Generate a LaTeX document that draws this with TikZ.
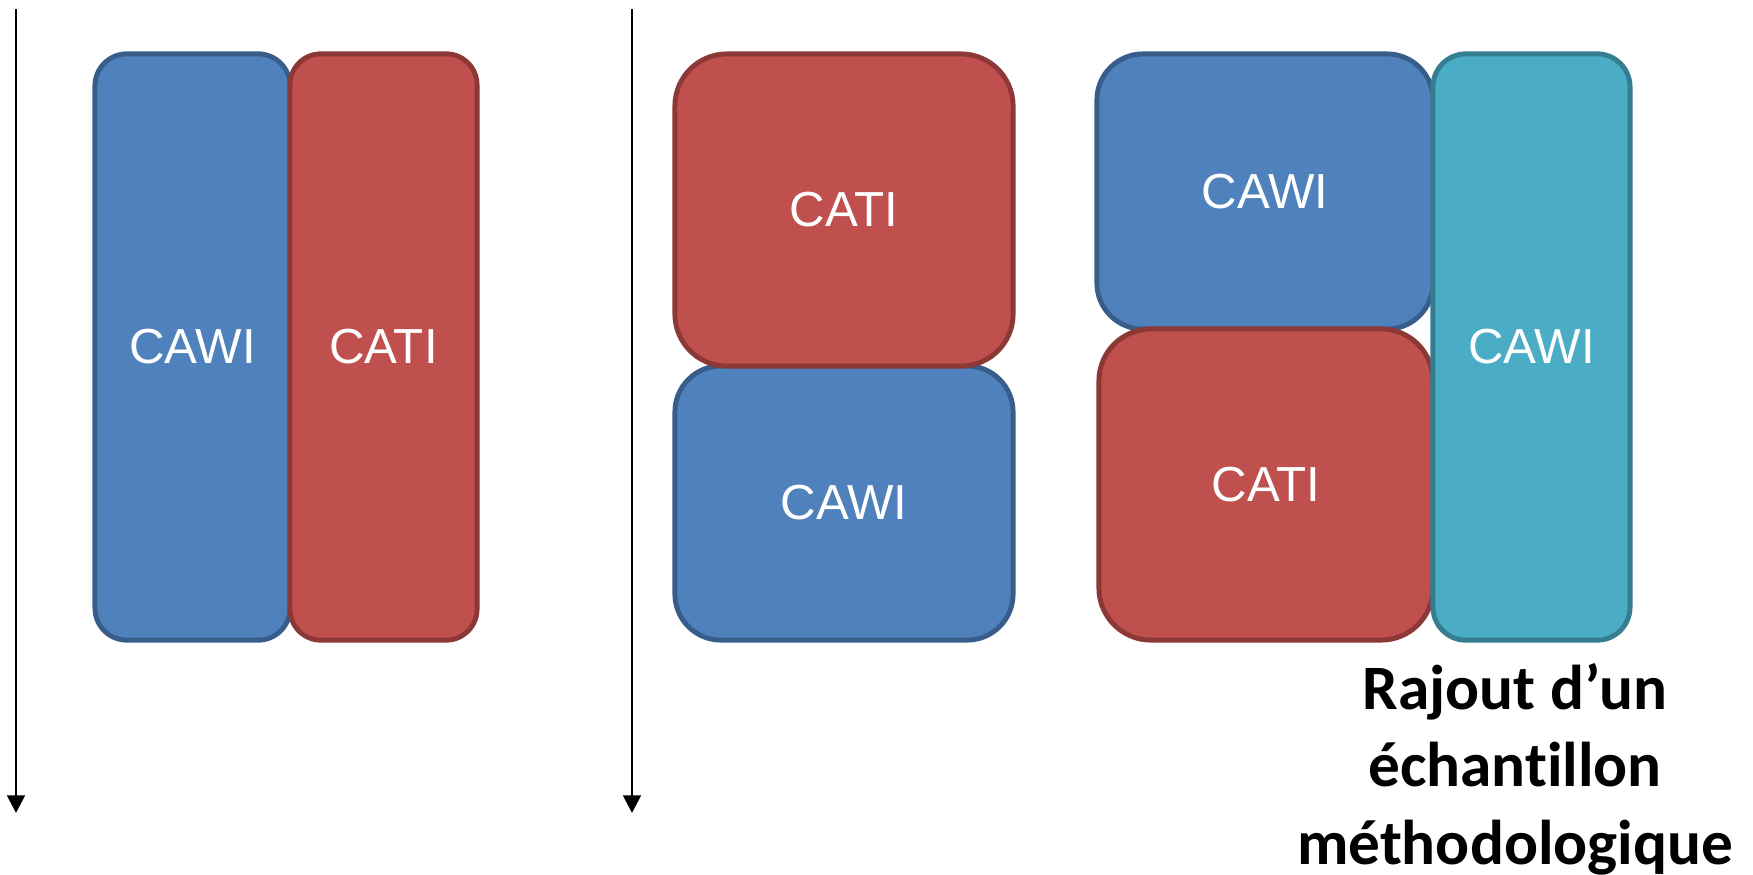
\documentclass[tikz,border=0pt]{standalone}
\usepackage{fontspec}
\setmainfont{Liberation Sans}
\newfontfamily\calibri[Ligatures=NoCommon]{Carlito}
\usetikzlibrary{arrows.meta}

\definecolor{cawiblue}{HTML}{4F81BD}
\definecolor{cawibluedark}{HTML}{385D8A}
\definecolor{catired}{HTML}{C0504D}
\definecolor{catireddark}{HTML}{8C3836}
\definecolor{cawiteal}{HTML}{4BACC6}
\definecolor{cawitealdark}{HTML}{357D91}

\begin{document}
\begin{tikzpicture}[x=0.01cm, y=-0.01cm,
  mode/.style={draw, line width=1.4pt, text=white, inner sep=0pt,
    font=\fontsize{14}{16}\selectfont},
  cawi/.style={mode, fill=cawiblue, draw=cawibluedark},
  cati/.style={mode, fill=catired, draw=catireddark},
  extra/.style={mode, fill=cawiteal, draw=cawitealdark},
  time/.style={-{Triangle[width=5pt, length=5pt]}, line width=0.8pt}]

\useasboundingbox (0,0) rectangle (1753,875);

% time axes
\coordinate (t1) at (16,9);
\coordinate (t1end) at (16,813);
\coordinate (t2) at (632,9);
\coordinate (t2end) at (632,813);
\draw [time] (t1) -- (t1end);
\draw [time] (t2) -- (t2end);

% first design
\node [cawi, minimum width=1.95cm, minimum height=5.86cm, rounded corners=0.32cm] (cawiA) at (192.5,347) {CAWI};
\node [cati, minimum width=1.87cm, minimum height=5.86cm, rounded corners=0.31cm] (catiA) at (383.5,347) {CATI};

% second design
\node [cawi, minimum width=3.38cm, minimum height=2.74cm, rounded corners=0.46cm] (cawiB) at (844,503) {CAWI};
\node [cati, minimum width=3.38cm, minimum height=3.12cm, rounded corners=0.52cm] (catiB) at (844,210) {CATI};

% third design
\node [cawi, minimum width=3.36cm, minimum height=2.75cm, rounded corners=0.46cm] (cawiC) at (1265,191.5) {CAWI};
\node [cati, minimum width=3.34cm, minimum height=3.11cm, rounded corners=0.52cm] (catiC) at (1266,484.5) {CATI};
\node [extra, minimum width=1.97cm, minimum height=5.86cm, rounded corners=0.33cm] (cawiD) at (1531.5,347) {CAWI};

\node [font=\calibri\bfseries\fontsize{18}{22}\selectfont, align=center] (ajout) at (1515,769)
  {Rajout d’un\\échantillon\\méthodologique};
\end{tikzpicture}
\end{document}
